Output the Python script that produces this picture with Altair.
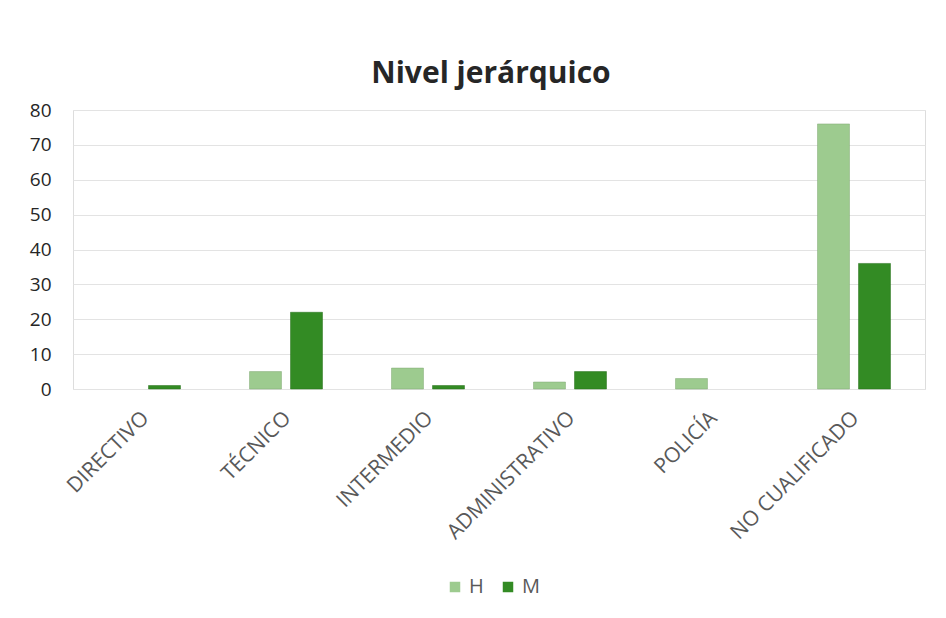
import altair as alt
import pandas as pd

# Job levels and headcount by sex
categorias = ["DIRECTIVO", "TÉCNICO", "INTERMEDIO", "ADMINISTRATIVO", "POLICÍA", "NO CUALIFICADO"]
hombres = [0, 5, 6, 2, 3, 76]
mujeres = [1, 22, 1, 5, 0, 36]
series = ["H", "M"]
colores = ["#9dcb8f", "#338b24"]

rows = []
for cat, h, m in zip(categorias, hombres, mujeres):
    rows.append({"nivel": cat, "sexo": "H", "valor": h})
    rows.append({"nivel": cat, "sexo": "M", "valor": m})
df = pd.DataFrame(rows)

FONT = "Open Sans"

chart = (
    alt.Chart(df)
    .transform_filter("datum.valor > 0")
    .mark_bar(strokeWidth=1, strokeOpacity=0.5)
    .encode(
        x=alt.X(
            "nivel:N",
            sort=categorias,
            title=None,
            scale=alt.Scale(domain=categorias, paddingInner=0.486, paddingOuter=0.243),
            axis=alt.Axis(
                labelAngle=-45,
                labelAlign="right",
                labelBaseline="top",
                labelPadding=18,
                labelOffset=-6,
                labelFontSize=21,
                labelColor="#595959",
                labelFont=FONT,
                domain=False,
                ticks=False,
                grid=False,
                labelOverlap=False,
            ),
        ),
        xOffset=alt.XOffset("sexo:N", sort=series, scale=alt.Scale(domain=series, paddingInner=0.22, paddingOuter=0)),
        y=alt.Y(
            "valor:Q",
            title=None,
            scale=alt.Scale(domain=[0, 80], nice=False),
            axis=alt.Axis(
                values=list(range(0, 81, 10)),
                labelFontSize=19,
                labelColor="#262626",
                labelFont=FONT,
                labelPadding=22,
                domain=False,
                ticks=False,
                gridColor="#e3e3e3",
                gridWidth=1.2,
            ),
        ),
        color=alt.Color(
            "sexo:N",
            sort=series,
            scale=alt.Scale(domain=series, range=colores),
            legend=alt.Legend(
                title=None,
                orient="none",
                direction="horizontal",
                legendX=372,
                legendY=467,
                symbolType="square",
                symbolSize=110,
                symbolStrokeWidth=0,
                labelFontSize=20,
                labelColor="#595959",
                labelFont=FONT,
                columnPadding=14,
                labelOffset=4,
            ),
        ),
        stroke=alt.Stroke("sexo:N", sort=series, scale=alt.Scale(domain=series, range=["#7faa73", "#26701a"]), legend=None),
    )
    .properties(
        width=852,
        height=279,
        title=alt.Title(
            "Nivel jerárquico",
            fontSize=30,
            fontWeight="bold",
            font=FONT,
            color="#262626",
            anchor="middle",
            offset=12,
            dx=-8,
        ),
        autosize=alt.AutoSizeParams(type="none"),
        padding={"left": 73, "top": 110, "right": 21, "bottom": 229},
    )
    .configure_view(stroke=None)
    .configure(background="white")
)

chart.save("out.html", embed_options={"renderer": "svg", "actions": False})
